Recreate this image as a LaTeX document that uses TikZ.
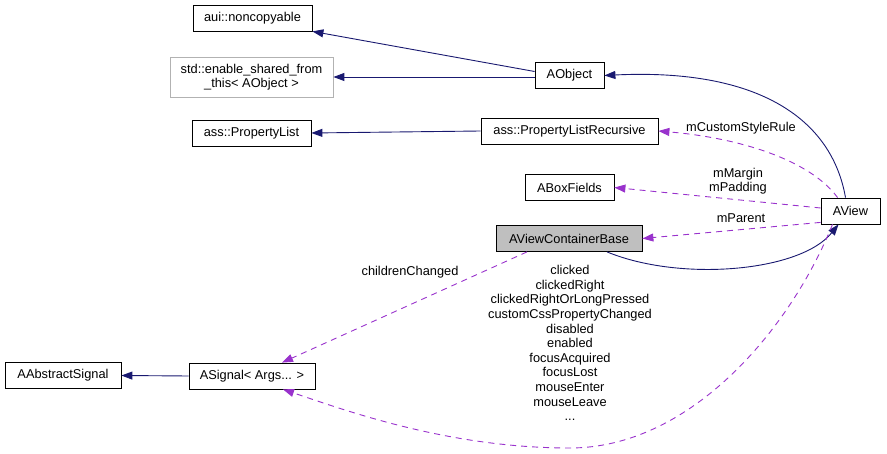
\documentclass[tikz,border=0pt]{standalone}
\usepackage{fontspec}
\setmainfont{Liberation Sans}
\usetikzlibrary{arrows.meta, calc}
\definecolor{navy}{RGB}{25,25,112}
\definecolor{orchid}{RGB}{153,50,204}
\begin{document}
\begin{tikzpicture}[x=1pt, y=-1pt, font=\fontsize{12.8}{14.6}\selectfont,
    cls/.style={draw=black, thick, fill=white, minimum height=26pt, inner xsep=4pt, align=center},
    inherit/.style={navy, line width=0.9pt, -{Triangle[length=11pt, width=8pt]}},
    member/.style={orchid, line width=0.9pt, dash pattern=on 6pt off 5pt, -{Triangle[length=11pt, width=8pt]}},
    lbl/.style={align=center, inner sep=0pt}]
    \useasboundingbox (0, 0) rectangle (887, 454);
    \node[cls, minimum width=119pt] (NC) at (252.5, 18) {aui::noncopyable};
    \node[cls, draw=black!30, minimum width=163pt, minimum height=40pt] (ESF) at (251.5, 77) {std::enable\_shared\_from\\\_this< AObject >};
    \node[cls, minimum width=69pt] (AO) at (569.5, 75.5) {AObject};
    \node[cls, minimum width=119pt] (PL) at (251.5, 133) {ass::PropertyList};
    \node[cls, minimum width=177pt] (PLR) at (569.5, 131) {ass::PropertyListRecursive};
    \node[cls, minimum width=89pt] (BF) at (569.5, 187.5) {ABoxFields};
    \node[cls, fill=black!25, minimum width=146pt] (AVCB) at (569, 238.5) {AViewContainerBase};
    \node[cls, minimum width=59pt] (AV) at (850.5, 211) {AView};
    \node[cls, minimum width=116pt] (AAS) at (63, 375.5) {AAbstractSignal};
    \node[cls, minimum width=126pt] (AS) at (252, 376) {ASignal< Args... >};
    % inheritance
    \draw[inherit] ($(AO.west)+(0, -4)$) -- (NC.south east);
    \draw[inherit] (AO.west |- ESF) -- (ESF.east);
    \draw[inherit] (PLR.west) -- (PL.east);
    \draw[inherit] (AS.west) -- (AAS.east);
    \draw[inherit] ($(AV.north)+(-5, 0)$) .. controls (832, 120) and (760, 68) .. (AO.east);
    \draw[inherit] ($(AVCB.south)+(38, 0)$) .. controls (680, 282) and (800, 272) .. ($(AV.south)+(-12, 0)$);
    % members
    \node[lbl] (Lcsr) at (741, 128) {mCustomStyleRule};
    \node[lbl] (Lmp) at (738, 181) {mMargin\\mPadding};
    \node[lbl] (Lpar) at (741, 218) {mParent};
    \node[lbl] (Lcc) at (410, 272) {childrenChanged};
    \node[lbl] (Lsig) at (570, 343) {clicked\\clickedRight\\clickedRightOrLongPressed\\customCssPropertyChanged\\disabled\\enabled\\focusAcquired\\focusLost\\mouseEnter\\mouseLeave\\...};
    \draw[member] ($(AV.north west)+(17, 0)$) .. controls (810, 160) and (740, 138) .. (PLR.east);
    \draw[member] ($(AV.west)+(0, -3)$) -- (BF.east);
    \draw[member] ($(AV.south west)+(0, -2)$) -- (AVCB.east);
    \draw[member] ($(AVCB.south)+(-42, 0)$) -- ($(AS.north)+(30, 0)$);
    \draw[member] ($(AV.south)+(-18, 0)$) .. controls (790, 330) and (690, 448) .. (570, 448) coordinate (SIGb) .. controls (450, 448) and (350, 412) .. ($(AS.south)+(31, 0)$);
\end{tikzpicture}
\end{document}
